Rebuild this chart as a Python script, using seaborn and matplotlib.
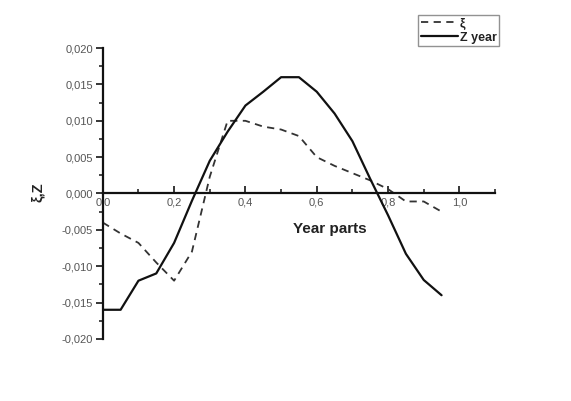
import matplotlib
matplotlib.use("Agg")
import matplotlib.pyplot as plt
import seaborn as sns
import pandas as pd
from matplotlib.ticker import MultipleLocator, FuncFormatter

sns.set_style("white")
plt.rcParams['font.family'] = ['Liberation Sans', 'DejaVu Sans']

x_vals = [0.0, 0.05, 0.1, 0.15, 0.2, 0.25, 0.3, 0.35, 0.4, 0.45, 0.5,
          0.55, 0.6, 0.65, 0.7, 0.75, 0.8, 0.85, 0.9, 0.95]
xi_vals = [-0.0040, -0.0055, -0.0068, -0.0095, -0.0120, -0.0080, 0.0023, 0.0100,
           0.0100, 0.0092, 0.0088, 0.0079, 0.0050, 0.0038, 0.0028, 0.0018,
           0.0006, -0.0011, -0.0011, -0.0025]
z_vals = [-0.0160, -0.0160, -0.0120, -0.0110, -0.0068, -0.0010, 0.0045, 0.0085,
          0.0121, 0.0140, 0.0160, 0.0160, 0.0140, 0.0110, 0.0072, 0.0020,
          -0.0030, -0.0083, -0.0119, -0.0140]
x_ticks = [0.0, 0.2, 0.4, 0.6, 0.8, 1.0]
y_ticks = [-0.020, -0.015, -0.010, -0.005, 0.000, 0.005, 0.010, 0.015, 0.020]

df = pd.DataFrame({"x": x_vals, "xi": xi_vals, "z": z_vals})

fig = plt.figure(figsize=(5.71, 4.01), dpi=100)
ax = fig.add_axes([0.180, 0.155, 0.687, 0.725])

sns.lineplot(data=df, x="x", y="xi", ax=ax, color="#333333", lw=1.3,
             linestyle=(0, (4, 3)), label="ξ")
sns.lineplot(data=df, x="x", y="z", ax=ax, color="#111111", lw=1.6,
             label="Z year")

ax.set_xlim(0, 1.1)
ax.set_ylim(-0.020, 0.020)
ax.spines['left'].set_position(('data', 0))
ax.spines['bottom'].set_position(('data', 0))
ax.spines['top'].set_visible(False)
ax.spines['right'].set_visible(False)
for s in ['left', 'bottom']:
    ax.spines[s].set_linewidth(1.6)
    ax.spines[s].set_color("#111111")

ax.set_xticks(x_ticks)
ax.set_yticks(y_ticks)
ax.xaxis.set_minor_locator(MultipleLocator(0.1))
ax.yaxis.set_minor_locator(MultipleLocator(0.0025))
ax.xaxis.set_major_formatter(FuncFormatter(lambda v, p: f"{v:.1f}".replace(".", ",")))
ax.yaxis.set_major_formatter(FuncFormatter(lambda v, p: f"{v:.3f}".replace(".", ",")))
ax.tick_params(axis='x', which='major', direction='in', length=5, width=1.3,
               labelsize=8, labelcolor="#555555", pad=3, bottom=True)
ax.tick_params(axis='x', which='minor', direction='in', length=3, width=1.2, bottom=True)
ax.tick_params(axis='y', which='major', direction='out', length=5, width=1.3,
               labelsize=8, labelcolor="#555555", pad=2, left=True)
ax.tick_params(axis='y', which='minor', direction='out', length=3, width=1.2, left=True)

ax.set_xlabel("")
ax.set_ylabel("")
fig.text(0.578, 0.428, "Year parts", ha='center', va='center', fontsize=11,
         fontweight='bold', color="#222222")
fig.text(0.067, 0.52, "ξ,Z", ha='center', va='center', fontsize=10.5,
         fontweight='bold', rotation=90, color="#222222")

leg = ax.legend(loc='upper right', bbox_to_anchor=(0.874, 0.962),
                bbox_transform=fig.transFigure, frameon=True, fontsize=9,
                handlelength=3.0, handletextpad=0.1, borderpad=0.2,
                labelspacing=0.15, fancybox=False, borderaxespad=0)
leg.get_frame().set_edgecolor("#777777")
leg.get_frame().set_linewidth(1.0)
for t in leg.get_texts():
    t.set_fontweight('bold')
    t.set_color("#222222")

fig.savefig("out.png", dpi=100, facecolor="white")
